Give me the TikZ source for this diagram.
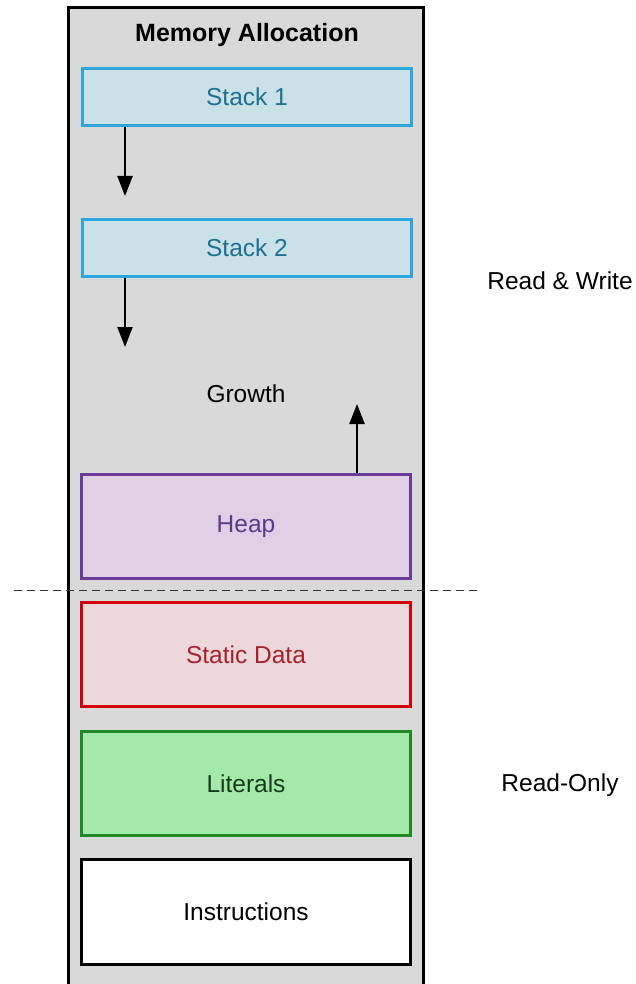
\documentclass[tikz,border=0pt]{standalone}
\usepackage{fontspec}
\setmainfont{Liberation Sans}
\usetikzlibrary{arrows.meta}
\definecolor{outerfill}{HTML}{D9D9D9}
\definecolor{stackdraw}{HTML}{2EA6DD}
\definecolor{stackfill}{HTML}{C9E1E7}
\definecolor{stacktext}{HTML}{1F6F92}
\definecolor{heapdraw}{HTML}{6B3A9A}
\definecolor{heapfill}{HTML}{DFD0E6}
\definecolor{heaptext}{HTML}{5B3A8C}
\definecolor{statdraw}{HTML}{D2000F}
\definecolor{statfill}{HTML}{ECD7DA}
\definecolor{stattext}{HTML}{A8202E}
\definecolor{litdraw}{HTML}{1E8A26}
\definecolor{litfill}{HTML}{A3EAAA}
\definecolor{littext}{HTML}{173A1C}
\tikzset{
  seg/.style={rectangle, inner sep=0pt, minimum width=329pt, line width=3pt,
    font=\fontsize{24.5}{28}\selectfont},
  stackbox/.style={seg, draw=stackdraw, fill=stackfill, text=stacktext, minimum height=57pt},
  heapbox/.style={seg, draw=heapdraw, fill=heapfill, text=heaptext, minimum height=104pt},
  statbox/.style={seg, draw=statdraw, fill=statfill, text=stattext, minimum height=104pt},
  litbox/.style={seg, draw=litdraw, fill=litfill, text=littext, minimum height=104pt},
  instrbox/.style={seg, draw=black, fill=white, text=black, minimum height=105pt},
  lbl/.style={font=\fontsize{24.5}{28}\selectfont, inner sep=0pt},
  arr/.style={line width=2.2pt, -{Triangle[length=20pt,width=15pt]}}
}
\begin{document}
\begin{tikzpicture}[x=1pt,y=-1pt]
\useasboundingbox (0,0) rectangle (636,984);
\clip (0,0) rectangle (636,984);
\fill[white] (0,0) rectangle (636,984);
\draw[line width=3pt, fill=outerfill] (68,8) rectangle (423,1000);
\node[lbl, font=\fontsize{25}{30}\selectfont\bfseries] (title) at (247,35) {Memory Allocation};
\node[stackbox] (stack1) at (247,97) {Stack 1};
\node[stackbox] (stack2) at (247,248) {Stack 2};
\node[lbl] (growth) at (246,394) {Growth};
\node[heapbox] (heap) at (246,526.5) {Heap};
\node[statbox] (static) at (246,654.5) {Static Data};
\node[litbox] (lit) at (246,783.5) {Literals};
\node[instrbox] (instr) at (246,912) {Instructions};
\node[lbl] (rw) at (560,281) {Read \& Write};
\node[lbl] (ro) at (560,785) {Read-Only};
\coordinate (a1) at (125,196);
\coordinate (a2) at (125,347);
\coordinate (a3) at (357,404);
\draw[arr] (stack1.south -| a1) -- (a1);
\draw[arr] (stack2.south -| a2) -- (a2);
\draw[arr] (heap.north -| a3) -- (a3);
\coordinate (dl) at (14,590.5);
\coordinate (dr) at (477,590.5);
\draw[line width=1.4pt, black!80, dash pattern=on 8pt off 5pt] (dl) -- (dr);
\end{tikzpicture}
\end{document}
